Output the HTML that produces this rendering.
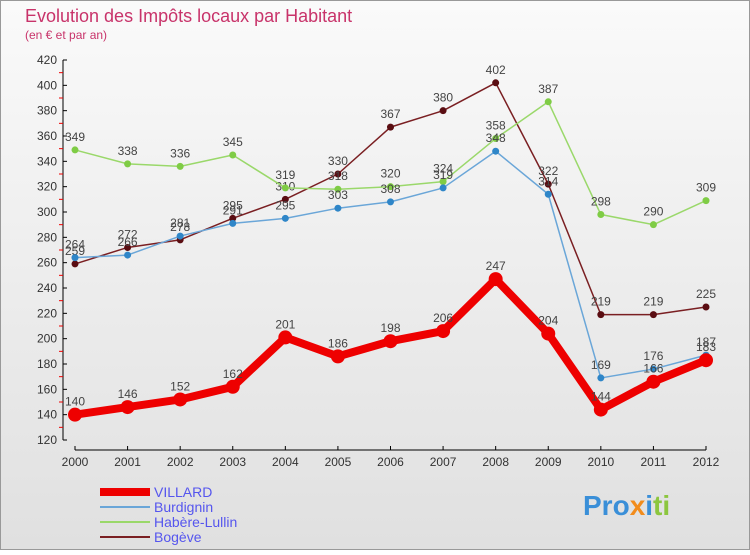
<!DOCTYPE html>
<html><head><meta charset="utf-8"><style>
body{margin:0;width:750px;height:550px;overflow:hidden;font-family:"Liberation Sans",sans-serif}
</style></head><body>
<svg id="c" width="750" height="550" xmlns="http://www.w3.org/2000/svg">
<defs><linearGradient id="bg" x1="0" y1="0" x2="0" y2="1"><stop offset="0" stop-color="#fafafa"/><stop offset="1" stop-color="#e0e0e0"/></linearGradient></defs>
<rect x="0.5" y="0.5" width="749" height="549" fill="url(#bg)" stroke="#999"/>
<text x="25" y="22" font-size="18" fill="#c8336a">Evolution des Impôts locaux par Habitant</text>
<text x="25" y="39" font-size="12" fill="#c8336a">(en € et par an)</text>
<g id="plot"></g>
<text x="583" y="515" font-size="28" font-weight="bold"><tspan fill="#3a8fd8">Pro</tspan><tspan fill="#f28c1c">x</tspan><tspan fill="#3a8fd8">i</tspan><tspan fill="#8cc63f">ti</tspan></text>
</svg>
<script>
const years=["2000","2001","2002","2003","2004","2005","2006","2007","2008","2009","2010","2011","2012"];
const yTicks=[120,140,160,180,200,220,240,260,280,300,320,340,360,380,400,420];
const villard=[140,146,152,162,201,186,198,206,247,204,144,166,183];
const burdignin=[264,266,281,291,295,303,308,319,348,314,169,176,187];
const habere=[349,338,336,345,319,318,320,324,358,387,298,290,309];
const bogeve=[259,272,278,295,310,330,367,380,402,322,219,219,225];
const NS="http://www.w3.org/2000/svg";
const g=document.getElementById('plot');
const X=i=>75+i*(706-75)/12;
const Y=v=>440-(v-120)*(380/300);
function el(t,a,p){const e=document.createElementNS(NS,t);for(const k in a)e.setAttribute(k,a[k]);(p||g).appendChild(e);return e;}
const ax=el('line',{x1:63,y1:Y(420),x2:63,y2:Y(120),stroke:'#000'});

const bx=el('line',{x1:X(0),y1:450,x2:X(12),y2:450,stroke:'#000'});

yTicks.forEach(v=>{
 el('line',{x1:63,y1:Y(v),x2:67,y2:Y(v),stroke:'#000'});
 if(v<420) el('line',{x1:59,y1:Y(v+10),x2:63,y2:Y(v+10),stroke:'#e00'});
 const t=el('text',{x:57,y:Y(v)+4,'font-size':12,'text-anchor':'end',fill:'#333'});t.textContent=v;
 
});
years.forEach((y,i)=>{
 el('line',{x1:X(i),y1:446,x2:X(i),y2:450,stroke:'#000'});
 const t=el('text',{x:X(i),y:466,'font-size':12,'text-anchor':'middle',fill:'#333'});t.textContent=y;
 
});
const series=[
 {name:'bogeve',data:bogeve,c:'#7a1f22',dot:'#5a0d12',w:1.5,r:3.5},
 {name:'habere-lullin',data:habere,c:'#9ad86a',dot:'#7fcc45',w:1.5,r:3.5},
 {name:'burdignin',data:burdignin,c:'#6aa6d8',dot:'#2f86c8',w:1.5,r:3.5},
 {name:'villard',data:villard,c:'#ee0000',dot:'#ee0000',w:8,r:7}];
series.forEach(s=>{
 const sg=el('g',{});
 const p=el('polyline',{points:s.data.map((v,i)=>X(i)+','+Y(v)).join(' '),fill:'none',stroke:s.c,'stroke-width':s.w,'stroke-linejoin':'round'},sg);
 
 s.data.forEach((v,i)=>{
  const d=el('circle',{cx:X(i),cy:Y(v),r:s.r,fill:s.dot},sg);
  
  const t=el('text',{x:X(i),y:Y(v)-9,'font-size':12,'text-anchor':'middle',fill:'#444'},sg);t.textContent=v;
  
 });
});
const leg=[['VILLARD','#ee0000',8],['Burdignin','#6aa6d8',2],['Habère-Lullin','#9ad86a',2],['Bogève','#7a1f22',2]];
leg.forEach((l,i)=>{
 const yy=492+i*15;
 const lg=el('g',{});
 el('line',{x1:100,y1:yy,x2:150,y2:yy,stroke:l[1],'stroke-width':l[2]},lg);
 const t=el('text',{x:154,y:yy+5,'font-size':14,fill:'#5555ee'},lg);t.textContent=l[0];
});
</script>
</body></html>
